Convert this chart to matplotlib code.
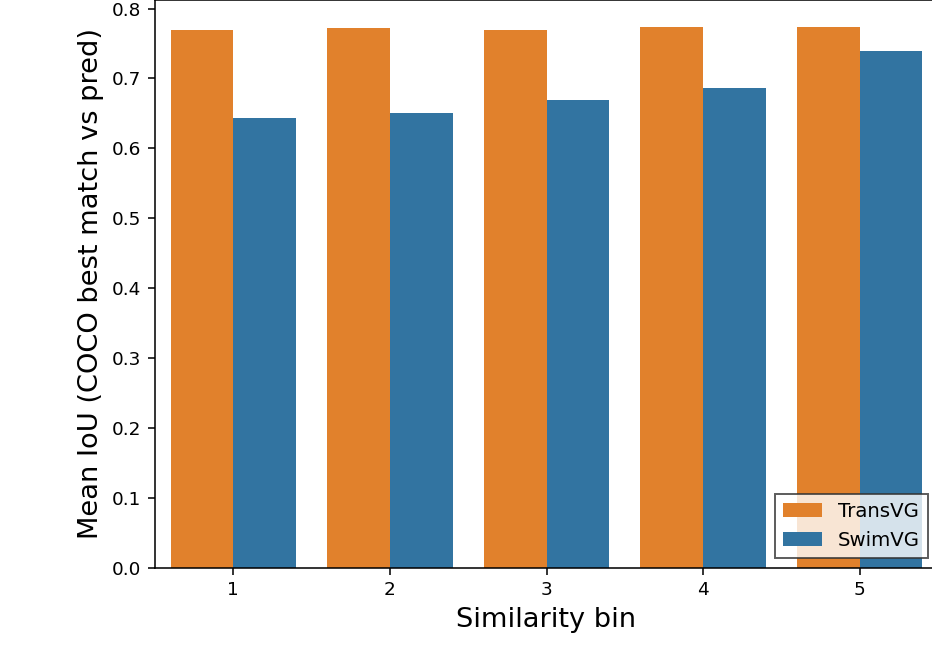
import numpy as np
import matplotlib
matplotlib.use("Agg")
import matplotlib.pyplot as plt

# mean IoU per similarity bin
bins = ["1", "2", "3", "4", "5"]
transvg = [0.770, 0.7725, 0.7697, 0.7735, 0.774]
swimvg = [0.644, 0.651, 0.669, 0.687, 0.740]

orange = "#e1812c"
blue = "#3274a1"

fig = plt.figure(figsize=(932 / 140, 646 / 140), dpi=140)
ax = fig.add_axes([155 / 932, 78.3 / 646, (938 - 155) / 932, 568.2 / 646])

x = np.arange(len(bins))
w = 0.4
ax.bar(x - w / 2, transvg, width=w, color=orange, label="TransVG")
ax.bar(x + w / 2, swimvg, width=w, color=blue, label="SwimVG")

ax.set_xlim(-0.5, len(bins) - 0.5)
ax.set_ylim(0, 0.813)
ax.set_xticks(x)
ax.set_xticklabels(bins)
ax.set_yticks(np.arange(0, 0.81, 0.1))
ax.tick_params(labelsize=9.5)

ax.set_xlabel("Similarity bin", fontsize=14)
ax.set_ylabel("Mean IoU (COCO best match vs pred)", fontsize=14)

leg = ax.legend(loc="lower right", fontsize=10.2, fancybox=False, framealpha=0.8)
leg.get_frame().set_edgecolor("#333333")

fig.savefig("out.png", dpi=140)
